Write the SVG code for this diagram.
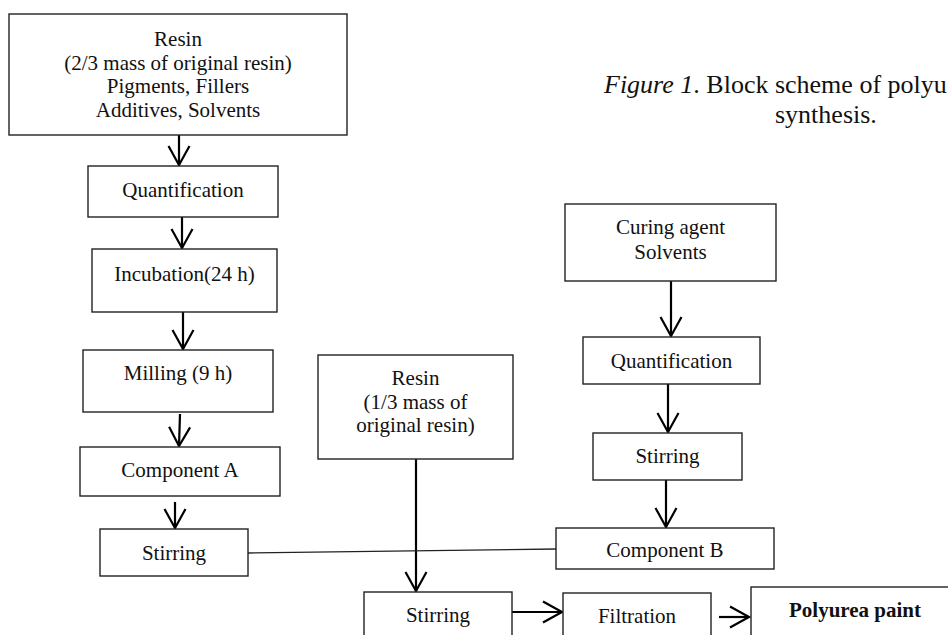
<svg xmlns="http://www.w3.org/2000/svg" width="948" height="635" viewBox="0 0 948 635">
<style>
.box{fill:#fff;stroke:#222;stroke-width:1.4}
.t{font-family:"Liberation Serif","Times New Roman",serif;font-size:21px;fill:#111;text-anchor:middle}
.b{font-weight:bold}
.cap{font-family:"Liberation Serif","Times New Roman",serif;font-size:26px;fill:#111}
.arr{stroke:#000;stroke-width:2.2;fill:none;marker-end:url(#v)}
.ln{stroke:#222;stroke-width:1.4;fill:none}
</style>
<defs>
<marker id="v" markerUnits="userSpaceOnUse" viewBox="-22 -13 24 26" refX="0" refY="0" markerWidth="24" markerHeight="26" orient="auto" overflow="visible">
<path d="M-19,-10.5 L0,0 L-19,10.5" fill="none" stroke="#000" stroke-width="2.2"/>
</marker>
</defs>
<rect width="948" height="635" fill="#fff"/>
<g id="caption">
<text class="cap" x="604" y="93"><tspan font-style="italic">Figure 1</tspan>. Block scheme of polyu</text>
<text class="cap" x="775" y="123">synthesis.</text>
</g>
<g id="connectors">
<line class="arr" x1="179" y1="135" x2="179" y2="165"/>
<line class="arr" x1="182" y1="217" x2="182" y2="248"/>
<line class="arr" x1="183" y1="312" x2="183" y2="349"/>
<line class="arr" x1="180" y1="414" x2="179" y2="446"/>
<line class="arr" x1="175" y1="502" x2="175" y2="528"/>
<line class="arr" x1="416" y1="459" x2="416" y2="591"/>
<line class="arr" x1="671" y1="281" x2="671" y2="336"/>
<line class="arr" x1="668" y1="384" x2="668" y2="432"/>
<line class="arr" x1="666" y1="480" x2="666" y2="527"/>
<line class="ln" x1="248" y1="553" x2="556" y2="549"/>
<line class="arr" x1="512" y1="612" x2="562" y2="612"/>
<line class="arr" x1="719" y1="617" x2="749" y2="617"/>
</g>
<g id="n_resin_top">
<rect class="box" x="9" y="14" width="338" height="121"/>
<text class="t" x="178" y="46">Resin</text>
<text class="t" x="178" y="69.5">(2/3 mass of original resin)</text>
<text class="t" x="178" y="93">Pigments, Fillers</text>
<text class="t" x="178" y="116.5">Additives, Solvents</text>
</g>
<g id="n_quant_a">
<rect class="box" x="88" y="166" width="190" height="51"/>
<text class="t" x="183" y="197">Quantification</text>
</g>
<g id="n_incubation">
<rect class="box" x="92" y="249" width="185" height="63"/>
<text class="t" x="184.5" y="281">Incubation(24 h)</text>
</g>
<g id="n_milling">
<rect class="box" x="83" y="350" width="190" height="62"/>
<text class="t" x="178" y="380">Milling (9 h)</text>
</g>
<g id="n_comp_a">
<rect class="box" x="80" y="447" width="200" height="49"/>
<text class="t" x="180" y="477">Component A</text>
</g>
<g id="n_stirring_a">
<rect class="box" x="100" y="529" width="148" height="47"/>
<text class="t" x="174" y="560">Stirring</text>
</g>
<g id="n_resin_third">
<rect class="box" x="318" y="355" width="195" height="104"/>
<text class="t" x="415.5" y="385">Resin</text>
<text class="t" x="415.5" y="408.5">(1/3 mass of</text>
<text class="t" x="415.5" y="432">original resin)</text>
</g>
<g id="n_curing">
<rect class="box" x="565" y="204" width="211" height="77"/>
<text class="t" x="670.5" y="234">Curing agent</text>
<text class="t" x="670.5" y="259">Solvents</text>
</g>
<g id="n_quant_b">
<rect class="box" x="583" y="337" width="177" height="47"/>
<text class="t" x="671.5" y="368">Quantification</text>
</g>
<g id="n_stirring_b">
<rect class="box" x="593" y="433" width="149" height="47"/>
<text class="t" x="667.5" y="463">Stirring</text>
</g>
<g id="n_comp_b">
<rect class="box" x="556" y="528" width="218" height="41"/>
<text class="t" x="665" y="557">Component B</text>
</g>
<g id="n_stirring_final">
<rect class="box" x="364" y="592" width="148" height="60"/>
<text class="t" x="438" y="622">Stirring</text>
</g>
<g id="n_filtration">
<rect class="box" x="563" y="593" width="148" height="60"/>
<text class="t" x="637" y="623">Filtration</text>
</g>
<g id="n_polyurea">
<rect class="box" x="751" y="587" width="210" height="60"/>
<text class="t b" x="855" y="617">Polyurea paint</text>
</g>
</svg>
